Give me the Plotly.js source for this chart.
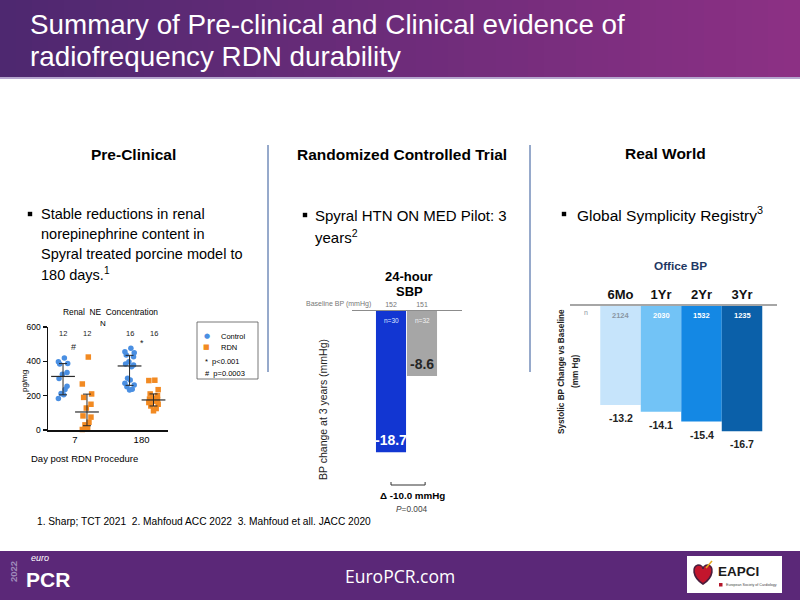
<!DOCTYPE html>
<html><head><meta charset="utf-8">
<script src="https://cdn.plot.ly/plotly-3.0.1.min.js"></script>
<style>html,body{margin:0;padding:0;background:#fff}#chart{width:800px;height:600px}</style>
</head><body><div id="chart"></div>
<script>
// ---------- DATA ----------
// Pre-clinical: renal NE concentration (pg/mg)
const neDays = ['7', '180'];
const ctrlDay7 = [420, 397, 387, 385, 335, 325, 300, 255, 236, 213, 205, 184];
const rdnDay7 = [425, 268, 210, 190, 150, 128, 82, 75, 45, 30, 12, 3];
const ctrlDay180 = [476, 456, 450, 437, 427, 398, 384, 379, 369, 301, 291, 272, 262, 252, 237, 233];
const rdnDay180 = [290, 288, 235, 210, 200, 185, 180, 178, 175, 172, 168, 160, 150, 140, 125, 112];
const groupN = [12, 12, 16, 16];
const ctrlMedian = [312, 373], ctrlQ1 = [205, 260], ctrlQ3 = [387, 435];
const rdnMedian = [105, 175], rdnQ1 = [25, 140], rdnQ3 = [209, 210];
const neTicks = [0, 200, 400, 600];
const pLegend = ['*  p<0.001', '#  p=0.0003'];

// Randomized controlled trial: 24-hour SBP change at 3 years
const rctGroups = ['RDN', 'Sham'];
const rctChange = [-18.7, -8.6];
const rctN = [30, 32];
const rctBaseline = [152, 151];
const rctDelta = -10.0;
const rctP = '0.004';

// Real world: Global Symplicity Registry office BP
const regPeriods = ['6Mo', '1Yr', '2Yr', '3Yr'];
const regChange = [-13.2, -14.1, -15.4, -16.7];
const regN = [2124, 2030, 1532, 1235];

// ---------- STYLE ----------
const F = 'Liberation Sans, Arial, sans-serif';
const W = 800, H = 600;
const px = x => x / W, py = y => 1 - y / H;
const C_CTRL = '#4a8fe2', C_RDN = '#f28a22';
const rctColors = ['#1236d2', '#a6a6a6'];
const regColors = ['#c6e4fb', '#72c3f6', '#1488e4', '#0b60a9'];
const regNColors = ['#8a96a3', '#ffffff', '#ffffff', '#ffffff'];
const jitterPattern = [0.2, -0.7, 0.7, -0.5, 0.6, -0.1, -0.6, 0.6, 0.3, -0.3, 0.1, -0.7, 0.7, -0.4, 0.4, 0];
const GROUP_OFF = 0.18, JIT = 0.1;

function txt(x, y, text, o = {}) {
  const font = Object.assign({family: F, size: 12, color: '#000'}, o.font || {});
  return Object.assign({xref: 'paper', yref: 'paper', x: px(x), y: py(y), text, showarrow: false,
    xanchor: 'center', yanchor: 'middle'}, o, {font});
}

const traces = [];
function jit(arr, center) { return arr.map((v, i) => center + jitterPattern[i % jitterPattern.length] * JIT); }
traces.push({type: 'scatter', mode: 'markers', xaxis: 'x', yaxis: 'y', cliponaxis: false, name: 'Control',
  x: jit(ctrlDay7, 1 - GROUP_OFF).concat(jit(ctrlDay180, 2 - GROUP_OFF)), y: ctrlDay7.concat(ctrlDay180),
  marker: {color: C_CTRL, size: 5.5, symbol: 'circle'}});
traces.push({type: 'scatter', mode: 'markers', xaxis: 'x', yaxis: 'y', cliponaxis: false, name: 'RDN',
  x: jit(rdnDay7, 1 + GROUP_OFF).concat(jit(rdnDay180, 2 + GROUP_OFF)), y: rdnDay7.concat(rdnDay180),
  marker: {color: C_RDN, size: 5.5, symbol: 'square'}});
function stats(center, med, q1, q3) {
  return {type: 'scatter', mode: 'markers', xaxis: 'x', yaxis: 'y', cliponaxis: false,
    x: center, y: med,
    marker: {symbol: 'line-ew-open', size: 17, color: '#2a2a2a', line: {width: 1.2, color: '#2a2a2a'}},
    error_y: {type: 'data', symmetric: false, array: q3.map((v, i) => v - med[i]),
      arrayminus: med.map((v, i) => v - q1[i]), width: 4, thickness: 1, color: '#2a2a2a'}};
}
traces.push(stats([1 - GROUP_OFF, 2 - GROUP_OFF], ctrlMedian, ctrlQ1, ctrlQ3));
traces.push(stats([1 + GROUP_OFF, 2 + GROUP_OFF], rdnMedian, rdnQ1, rdnQ3));

// RCT bars
traces.push({type: 'bar', xaxis: 'x2', yaxis: 'y2', x: [1, 2], y: rctChange, width: 0.97, name: rctGroups.join('/'),
  marker: {color: rctColors}, hoverinfo: 'skip'});
// Registry bars
traces.push({type: 'bar', xaxis: 'x3', yaxis: 'y3', x: regPeriods, y: regChange, width: 1,
  marker: {color: regColors}});

// ---------- SHAPES ----------
const shapes = [];
const strips = 50;
for (let i = 0; i < strips; i++) {
  const t = i / (strips - 1);
  const c = [78 + (140 - 78) * t, 40 + (48 - 40) * t, 112 + (132 - 112) * t].map(Math.round);
  shapes.push({type: 'rect', xref: 'paper', yref: 'paper', x0: px(i * W / strips), x1: px((i + 1) * W / strips + 1),
    y0: py(77), y1: py(0), fillcolor: `rgb(${c})`, line: {width: 0}, layer: 'below'});
}
shapes.push({type: 'rect', xref: 'paper', yref: 'paper', x0: 0, x1: 1, y0: py(79), y1: py(77),
  fillcolor: '#b6a6cf', line: {width: 0}});
// footer
shapes.push({type: 'rect', xref: 'paper', yref: 'paper', x0: 0, x1: 1, y0: 0, y1: py(551),
  fillcolor: '#5b2878', line: {width: 0}, layer: 'below'});
shapes.push({type: 'rect', xref: 'paper', yref: 'paper', x0: px(687), x1: px(782), y0: py(593), y1: py(556),
  fillcolor: '#ffffff', line: {width: 0}});
const P = (x, y) => `${px(x)},${py(y)}`;
shapes.push({type: 'path', xref: 'paper', yref: 'paper',
  path: `M ${P(703, 584)} C ${P(692, 577)} ${P(692, 566)} ${P(698, 565)} C ${P(701, 565)} ${P(703, 567)} ${P(703, 569)} C ${P(703, 567)} ${P(705, 565)} ${P(708, 565)} C ${P(714, 566)} ${P(714, 577)} ${P(703, 584)} Z`,
  fillcolor: '#c3162d', line: {color: '#4b1d3c', width: 1.6}});
shapes.push({type: 'line', xref: 'paper', yref: 'paper', x0: px(706), y0: py(568), x1: px(712), y1: py(561),
  line: {color: '#e2a91e', width: 1.5}});
shapes.push({type: 'rect', xref: 'paper', yref: 'paper', x0: px(719), x1: px(722.5), y0: py(586.5), y1: py(583),
  fillcolor: '#b3162b', line: {width: 0}});
// dividers
[268, 530].forEach(x => shapes.push({type: 'line', xref: 'paper', yref: 'paper', x0: px(x), x1: px(x),
  y0: py(372), y1: py(145), line: {color: '#2f5597', width: 1}}));
// bullets
[[30, 214], [305, 215], [564, 214]].forEach(([x, y]) => shapes.push({type: 'rect', xref: 'paper', yref: 'paper',
  x0: px(x - 2.2), x1: px(x + 2.2), y0: py(y + 2.2), y1: py(y - 2.2), fillcolor: '#000', line: {width: 0}}));
// chart 1 legend box
shapes.push({type: 'rect', xref: 'paper', yref: 'paper', x0: px(197), x1: px(258), y0: py(379), y1: py(322),
  line: {color: '#555', width: 0.8}, fillcolor: 'rgba(0,0,0,0)'});
// RCT bracket
shapes.push({type: 'path', xref: 'x2', yref: 'paper',
  path: `M 1,${py(482)} L 1,${py(485)} L 2.1,${py(485)} L 2.1,${py(482)}`, line: {color: '#333', width: 1}});

// ---------- ANNOTATIONS ----------
const ann = [];
ann.push(txt(28, 25, 'Summary of Pre-clinical and Clinical evidence of', {xanchor: 'left', font: {size: 27.8, color: '#fff'}}));
ann.push(txt(28, 56, 'radiofrequency RDN durability', {xanchor: 'left', font: {size: 27.8, color: '#fff'}}));
// column headers
ann.push(txt(133, 155, 'Pre-Clinical', {font: {size: 15.5, weight: 'bold'}}));
ann.push(txt(402, 155, 'Randomized Controlled Trial', {font: {size: 15.5, weight: 'bold'}}));
ann.push(txt(665, 154, 'Real World', {font: {size: 15.5, weight: 'bold'}}));
// bullets
['Stable reductions in renal', 'norepinephrine content in', 'Spyral treated porcine model to', '180 days.<sup>1</sup>']
  .forEach((t, i) => ann.push(txt(39, 214 + i * 20, t, {xanchor: 'left', font: {size: 14.5}})));
ann.push(txt(313, 215, 'Spyral HTN ON MED Pilot: 3', {xanchor: 'left', font: {size: 15}}));
ann.push(txt(313, 236, 'years<sup>2</sup>', {xanchor: 'left', font: {size: 15}}));
ann.push(txt(575, 214, 'Global Symplicity Registry<sup>3</sup>', {xanchor: 'left', font: {size: 15.5}}));
// footnote + footer
ann.push(txt(35, 521, '1. Sharp; TCT 2021  2. Mahfoud ACC 2022  3. Mahfoud et all. JACC 2020', {xanchor: 'left', font: {size: 10.2}}));
ann.push(txt(400, 576, 'EuroPCR.com', {font: {family: 'Open Sans, sans-serif', size: 17.5, color: '#fff'}}));
ann.push(txt(13, 572, '2022', {textangle: -90, font: {size: 9.5, weight: 'bold', color: '#9f8bbb'}}));
ann.push(txt(29, 558, '<i>euro</i>', {xanchor: 'left', font: {size: 9, color: '#fff'}}));
ann.push(txt(24, 579, 'PCR', {xanchor: 'left', font: {size: 21, weight: 'bold', color: '#fff'}}));
ann.push(txt(738, 571, 'EAPCI', {font: {size: 13.5, weight: 'bold', color: '#1a1a1a'}}));
ann.push(txt(724, 585, 'European Society of Cardiology', {xanchor: 'left', font: {size: 3.6, color: '#444'}}));

// chart 1 texts
ann.push(txt(110, 312, 'Renal  NE  Concentration', {font: {size: 8.4}}));
ann.push(txt(103, 323, 'N', {font: {size: 8}}));
groupN.forEach((n, i) => {
  const xc = [1 - GROUP_OFF, 1 + GROUP_OFF, 2 - GROUP_OFF, 2 + GROUP_OFF][i];
  ann.push({xref: 'x', yref: 'y', x: xc, y: 560, text: String(n), showarrow: false, font: {family: F, size: 7.5, color: '#222'}});
});
ann.push({xref: 'x', yref: 'y', x: 0.97, y: 483, text: '#', showarrow: false, font: {family: F, size: 9, color: '#222'}});
ann.push({xref: 'x', yref: 'y', x: 2.01, y: 505, text: '*', showarrow: false, font: {family: F, size: 9, color: '#222'}});
ann.push(txt(24, 381, 'pg/mg', {textangle: -90, font: {size: 8}}));
ann.push(txt(84, 458, 'Day post RDN Procedure', {font: {size: 9.5}}));
ann.push(txt(207, 336, '●', {font: {family: 'DejaVu Sans', size: 7, color: C_CTRL}}));
ann.push(txt(207, 347, '■', {font: {family: 'DejaVu Sans', size: 7, color: C_RDN}}));
ann.push(txt(219, 336, 'Control', {xanchor: 'left', font: {size: 7.5}}));
ann.push(txt(219, 347, 'RDN', {xanchor: 'left', font: {size: 7.5}}));
pLegend.forEach((t, i) => ann.push(txt(203, 361 + i * 12, t, {xanchor: 'left', font: {size: 7.5}})));

// chart 2 texts
ann.push(txt(409, 276, '24-hour', {font: {size: 13, weight: 'bold'}}));
ann.push(txt(409, 291, 'SBP', {font: {size: 13, weight: 'bold'}}));
ann.push(txt(338, 304, 'Baseline BP (mmHg)', {font: {size: 7, color: '#777'}}));
rctN.forEach((n, i) => ann.push({xref: 'x2', yref: 'y2', x: i + 1, y: 0, yanchor: 'top', yshift: -4, showarrow: false,
  text: 'n=' + n, font: {family: F, size: 6.5, color: i === 0 ? '#dfe6ff' : '#f2f2f2'}}));
rctChange.forEach((v, i) => ann.push({xref: 'x2', yref: 'y2', x: i + 1, y: v, yanchor: 'bottom', yshift: 2, showarrow: false,
  text: v.toFixed(1), font: {family: F, size: 14, weight: 'bold', color: i === 0 ? '#ffffff' : '#262626'}}));
ann.push(txt(323, 410, 'BP change at 3 years (mmHg)', {textangle: -90, font: {size: 10.5, color: '#222'}}));
ann.push(txt(412, 495, `Δ ${rctDelta.toFixed(1)} mmHg`, {font: {size: 9.8, weight: 'bold'}}));
ann.push(txt(412, 509, `<i>P</i>=${rctP}`, {font: {size: 8.3, color: '#444'}}));

// chart 3 texts
ann.push(txt(680, 266, 'Office BP', {font: {size: 11.8, weight: 'bold', color: '#1f3864'}}));
ann.push(txt(586, 313, 'n', {font: {size: 7, color: '#8a96a3'}}));
regN.forEach((n, i) => ann.push({xref: 'x3', yref: 'y3', x: regPeriods[i], y: 0, yanchor: 'top', yshift: -3, showarrow: false,
  text: String(n), font: {family: F, size: 7.5, weight: 'bold', color: regNColors[i]}}));
regChange.forEach((v, i) => ann.push({xref: 'x3', yref: 'y3', x: regPeriods[i], y: v, yanchor: 'top', yshift: -5, showarrow: false,
  text: v.toFixed(1), font: {family: F, size: 10.5, weight: 'bold', color: '#222'}}));
ann.push(txt(561, 372, 'Systolic BP Change vs Baseline', {textangle: -90, font: {size: 8.2, weight: 'bold', color: '#222'}}));
ann.push(txt(575, 372, '(mm Hg)', {textangle: -90, font: {size: 8.2, weight: 'bold', color: '#222'}}));

const layout = {
  width: W, height: H, margin: {l: 0, r: 0, t: 0, b: 0}, paper_bgcolor: '#ffffff', plot_bgcolor: 'rgba(0,0,0,0)',
  showlegend: false, font: {family: F, color: '#000'},
  xaxis: {domain: [px(48), px(168)], range: [0.594, 2.398], anchor: 'y', showline: true, linecolor: '#111', linewidth: 1.5,
    showgrid: false, zeroline: false, tickvals: [1, 2], ticktext: neDays, ticks: '', tickfont: {size: 9.5}, fixedrange: true},
  yaxis: {domain: [py(430), py(327)], range: [0, 600], anchor: 'x', showline: true, linecolor: '#111', linewidth: 1.5,
    ticks: 'outside', ticklen: 4, tickwidth: 1.5, tickcolor: '#111', tickvals: neTicks, tickfont: {size: 8.5},
    showgrid: false, zeroline: false, fixedrange: true},
  xaxis2: {domain: [px(352), px(462)], range: [-0.258, 3.29], anchor: 'y2', side: 'top', showline: true, linecolor: '#8c8c8c',
    linewidth: 1, showgrid: false, zeroline: false, tickvals: [1, 2], ticktext: rctBaseline.map(String), ticks: '',
    tickfont: {size: 7, color: '#777'}, fixedrange: true},
  yaxis2: {domain: [py(460), py(311)], range: [-19.71, 0], anchor: 'x2', visible: false, fixedrange: true},
  xaxis3: {domain: [px(570), px(777)], range: [-1.247, 3.864], anchor: 'y3', side: 'top', type: 'category',
    showline: true, linecolor: '#a6a6a6', linewidth: 2, showgrid: false, zeroline: false, ticks: '',
    tickfont: {size: 13, weight: 'bold', color: '#111'}, fixedrange: true},
  yaxis3: {domain: [py(450), py(306)], range: [-19.2, 0], anchor: 'x3', visible: false, fixedrange: true},
  shapes, annotations: ann
};
Plotly.newPlot('chart', traces, layout, {displayModeBar: false, staticPlot: true});
</script></body></html>
